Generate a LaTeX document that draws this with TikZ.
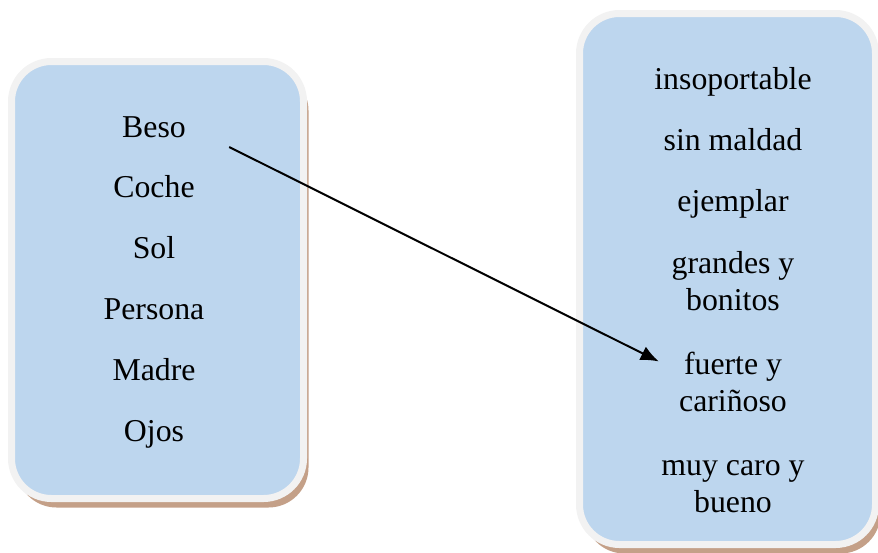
\documentclass[tikz,border=0pt]{standalone}
\usepackage{fontspec}
\setmainfont{Liberation Serif}
\usetikzlibrary{shadows,arrows.meta}

\definecolor{boxblue}{RGB}{189,214,238}
\definecolor{boxrim}{RGB}{242,242,242}
\definecolor{boxshade}{RGB}{196,160,136}

\begin{document}
\begin{tikzpicture}[x=0.5pt,y=-0.5pt]

% definitions
\tikzstyle{card} = [rectangle, rounded corners=20pt, draw=boxrim, line width=3.5pt, fill=boxblue, drop shadow={shadow xshift=2.5pt, shadow yshift=-4.5pt, fill=boxshade, opacity=1}]
\tikzstyle{word} = [inner sep=0pt, anchor=base, align=center, font=\fontsize{15.9}{18.5}\selectfont]
\tikzstyle{arrow} = [-{Latex[length=9pt,width=7.5pt]}, line width=1pt]

\useasboundingbox (0,0) rectangle (878,552);

% the boxes
\node (left) [card, minimum width=146pt, minimum height=218.5pt] at (157.5,280) {};
\node (right) [card, minimum width=148pt, minimum height=265.5pt] at (727.5,279) {};

% left column
\node (beso) [word] at (154,137) {Beso};
\node (coche) [word] at (154,197) {Coche};
\node (sol) [word] at (154,258) {Sol};
\node (persona) [word] at (154,319) {Persona};
\node (madre) [word] at (154,380) {Madre};
\node (ojos) [word] at (154,441) {Ojos};

% right column (base = last line)
\node (insop) [word] at (733,89) {insoportable};
\node (maldad) [word] at (733,150) {sin maldad};
\node (ejemplar) [word] at (733,211) {ejemplar};
\node (grandes) [word] at (733,310) {grandes y\\bonitos};
\node (fuerte) [word] at (733,411) {fuerte y\\cariñoso};
\node (caro) [word] at (733,512) {muy caro y\\bueno};

\draw [arrow] ([xshift=21.5pt, yshift=-5pt]beso.base east) -- ([xshift=-10pt, yshift=10pt]fuerte.west);

\end{tikzpicture}
\end{document}
